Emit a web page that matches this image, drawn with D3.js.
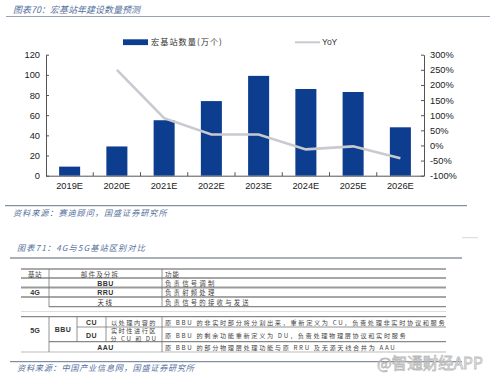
<!DOCTYPE html>
<html><head><meta charset="utf-8">
<script src="https://cdn.jsdelivr.net/npm/d3@7/dist/d3.min.js"></script>
<style>
html,body{margin:0;padding:0;background:#fff;}
svg{display:block;}
.cjk{font-family:"Noto Sans CJK SC","Noto Sans",sans-serif;}
.num{font-family:"Liberation Sans",Arial,sans-serif;}
</style></head>
<body>
<script>
// ---------- data ----------
const years = ["2019E","2020E","2021E","2022E","2023E","2024E","2025E","2026E"];
const stations = [9, 29, 55, 74, 99, 86, 83, 48];           // 宏基站数量(万个)
const yoy = [null, 250, 90, 36, 36, -13, -3, -42];          // YoY %
const leftTicks = [0, 20, 40, 60, 80, 100, 120];
const rightTicks = [-100, -50, 0, 50, 100, 150, 200, 250, 300];
const seriesNames = ["宏基站数量(万个)", "YoY"];
const title1 = "图表70：宏基站年建设数量预测";
const source1 = "资料来源：赛迪顾问，国盛证券研究所";
const title2 = "图表71：4G与5G基站区别对比";
const source2 = "资料来源：中国产业信息网，国盛证券研究所";
const tableHeader = ["基站", "部件及分拆", "功能"];
const rows4G = [["BBU", "负责信号调制"], ["RRU", "负责射频处理"], ["天线", "负责信号的接收与发送"]];
const rows5G = [
  ["CU", "原 BBU 的非实时部分将分割出来，重新定义为 CU，负责处理非实时协议和服务"],
  ["DU", "原 BBU 的剩余功能重新定义为 DU，负责处理物理层协议和实时服务"]
];
const split5G = ["以处理内容的", "实时性进行区", "分 CU 和 DU"];
const aauRow = ["AAU", "原 BBU 的部分物理层处理功能与原 RRU 及无源天线合并为 AAU"];
const watermark = "@智通财经APP";

// ---------- layout ----------
const W = 497, H = 382;
const svg = d3.select("body").append("svg").attr("width", W).attr("height", H);
const titleColor = "#56719e";
const barColor = "#0d3d8f";
const lineColor = "#c8cacf";

// header
svg.append("text").attr("class","cjk").attr("x",13).attr("y",12.5)
  .attr("font-size",9).attr("font-style","italic").attr("fill",titleColor).text(title1);
svg.append("line").attr("x1",6).attr("x2",490).attr("y1",16.5).attr("y2",16.5)
  .attr("stroke","#7f8aa0").attr("stroke-width",0.8);

const plot = {l:46, r:424, t:54.7, b:175.7};
const x = d3.scaleBand().domain(years).range([plot.l, plot.r]).paddingInner(0.555).paddingOuter(0.2775);
const yL = d3.scaleLinear().domain([0,120]).range([plot.b, plot.t]);
const yR = d3.scaleLinear().domain([-100,300]).range([plot.b, plot.t]);

// bars
svg.append("g").selectAll("rect").data(years).join("rect")
  .attr("x", d => x(d)).attr("width", x.bandwidth())
  .attr("y", (d,i) => yL(stations[i])).attr("height", (d,i) => yL(0) - yL(stations[i]))
  .attr("fill", barColor);

// YoY line
const pts = years.map((d,i) => [x(d) + x.bandwidth()/2, yoy[i]]).filter(p => p[1] !== null);
svg.append("path").datum(pts)
  .attr("d", d3.line().x(p => p[0]).y(p => yR(p[1])))
  .attr("fill","none").attr("stroke",lineColor).attr("stroke-width",2.6);

// axes
const axisColor = "#555";
const gl = svg.append("g").attr("transform",`translate(${plot.l},0)`)
  .call(d3.axisLeft(yL).tickValues(leftTicks).tickSize(-3).tickPadding(6).tickSizeOuter(0));
const gr = svg.append("g").attr("transform",`translate(${plot.r},0)`)
  .call(d3.axisRight(yR).tickValues(rightTicks).tickSize(-3).tickPadding(6).tickSizeOuter(0).tickFormat(d => d + "%"));
const gx = svg.append("g").attr("transform",`translate(0,${plot.b})`)
  .call(d3.axisBottom(x).tickSize(0).tickPadding(7));
[gl, gr, gx].forEach(g => {
  g.selectAll("path").attr("stroke", axisColor).attr("stroke-width",1);
  g.selectAll("line").attr("stroke", axisColor);
  g.selectAll("text").attr("class","num").attr("font-size",9.3).attr("fill","#222");
});
// category boundary ticks on x axis
const bounds = years.map(d => x(d) - x.step()*x.paddingInner()/2).concat([plot.r]);
svg.append("g").selectAll("line").data(bounds.slice(1, -1)).join("line")
  .attr("x1", d => d).attr("x2", d => d).attr("y1", plot.b - 3.5).attr("y2", plot.b + 0.5)
  .attr("stroke", axisColor);

// legend
svg.append("rect").attr("x",123).attr("y",39.3).attr("width",25).attr("height",5.8).attr("fill",barColor);
svg.append("text").attr("class","cjk").attr("x",151).attr("y",45).attr("font-size",8.2)
  .attr("letter-spacing",1).attr("fill","#333").text(seriesNames[0]);
svg.append("line").attr("x1",295).attr("x2",320).attr("y1",42.3).attr("y2",42.3)
  .attr("stroke",lineColor).attr("stroke-width",2);
svg.append("text").attr("class","num").attr("x",322).attr("y",45.3).attr("font-size",8.5)
  .attr("fill","#333").text(seriesNames[1]);

// source 1 / title 2
svg.append("line").attr("x1",5).attr("x2",467).attr("y1",205.7).attr("y2",205.7)
  .attr("stroke","#55657f").attr("stroke-width",0.9);
svg.append("text").attr("class","cjk").attr("x",13).attr("y",216).attr("font-size",8.2)
  .attr("letter-spacing",0.9).attr("font-style","italic").attr("fill",titleColor).text(source1);
svg.append("line").attr("x1",462).attr("x2",478).attr("y1",237.7).attr("y2",237.7)
  .attr("stroke","#ccc").attr("stroke-width",0.8);
svg.append("text").attr("class","cjk").attr("x",17).attr("y",250.5).attr("font-size",8.2)
  .attr("letter-spacing",1.1).attr("font-style","italic").attr("fill",titleColor).text(title2);

// ---------- table ----------
const T = svg.append("g");
const hl = (x1,x2,y,c,w) => T.append("line").attr("x1",x1).attr("x2",x2).attr("y1",y).attr("y2",y).attr("stroke",c).attr("stroke-width",w);
const vl = (xx,y1,y2) => T.append("line").attr("x1",xx).attr("x2",xx).attr("y1",y1).attr("y2",y2).attr("stroke","#777").attr("stroke-width",0.8);
const tx = (xx,y,s,opt={}) => T.append("text").attr("class", opt.cls || "cjk").attr("x",xx).attr("y",y)
  .attr("font-size",opt.fs || 6.3).attr("font-weight",opt.fw || "normal")
  .attr("letter-spacing",opt.ls || 0)
  .attr("text-anchor",opt.a || "start").attr("dominant-baseline","central")
  .attr("fill",opt.c || "#444").text(s);

hl(10,462,258,"#56606e",1);
hl(21,446,269,"#444",0.9);
hl(21,446,278,"#888",1.4);
hl(21,446,287.5,"#999",1.8);
hl(21,446,297,"#888",1.4);
hl(49,446,306.7,"#888",1.2);
hl(21,446,311.5,"#ddd",1);
hl(21,446,316.7,"#888",1.2);
hl(77,446,327,"#888",0.9);
hl(49,446,341.7,"#888",1.2);
hl(21,446,352,"#bbb",1);
vl(49,269,307); vl(162,269,307);
vl(49,317,352); vl(77,317,342); vl(106,317,342); vl(162,317,352);

tx(35,273.8,tableHeader[0],{a:"middle",fs:6.5,ls:0.6});
tx(100,273.8,tableHeader[1],{a:"middle",fs:6.5,ls:1.2});
tx(165,273.8,tableHeader[2],{fs:6.5,ls:1});
tx(35,292.5,"4G",{a:"middle",cls:"num",fw:"bold",fs:7.2,c:"#333"});
const rowY4 = [283, 292.5, 302];
rows4G.forEach((r,i) => {
  tx(105.5,rowY4[i],r[0],{a:"middle",cls: i<2 ? "num":"cjk",fw: i<2 ? "bold":"normal",fs: i<2 ? 7:6.5,c:"#333",ls: i<2 ? 0.5 : 1.5});
  tx(165,rowY4[i],r[1],{fs:6.4,ls:2.2});
});
tx(35,330,"5G",{a:"middle",cls:"num",fw:"bold",fs:7.2,c:"#333"});
tx(63,329,"BBU",{a:"middle",cls:"num",fw:"bold",fs:7,c:"#333",ls:0.5});
const rowY5 = [322, 335];
rows5G.forEach((r,i) => {
  tx(91.5,rowY5[i],r[0],{a:"middle",cls:"num",fw:"bold",fs:7,c:"#333",ls:0.5});
  tx(165,rowY5[i],r[1],{fs:6.2,ls:1.65});
});
split5G.forEach((s,i) => tx(134,322 + i*8,s,{a:"middle",fs:6.2,ls:1.5}));
tx(105.5,347.5,aauRow[0],{a:"middle",cls:"num",fw:"bold",fs:7,c:"#333",ls:0.5});
tx(165,347.5,aauRow[1],{fs:6.2,ls:1.65});

// source 2
svg.append("line").attr("x1",10).attr("x2",462).attr("y1",361.7).attr("y2",361.7)
  .attr("stroke","#55657f").attr("stroke-width",0.9);
svg.append("text").attr("class","cjk").attr("x",17).attr("y",371).attr("font-size",8.2)
  .attr("letter-spacing",0.7).attr("font-style","italic").attr("fill",titleColor).text(source2);

// watermark
svg.append("text").attr("class","cjk").attr("x",377).attr("y",369).attr("font-size",15.5)
  .attr("fill","#fafafa").attr("stroke","#b0b0b0").attr("stroke-width",0.8)
  .attr("opacity",0.85).text(watermark);
</script>
</body></html>
